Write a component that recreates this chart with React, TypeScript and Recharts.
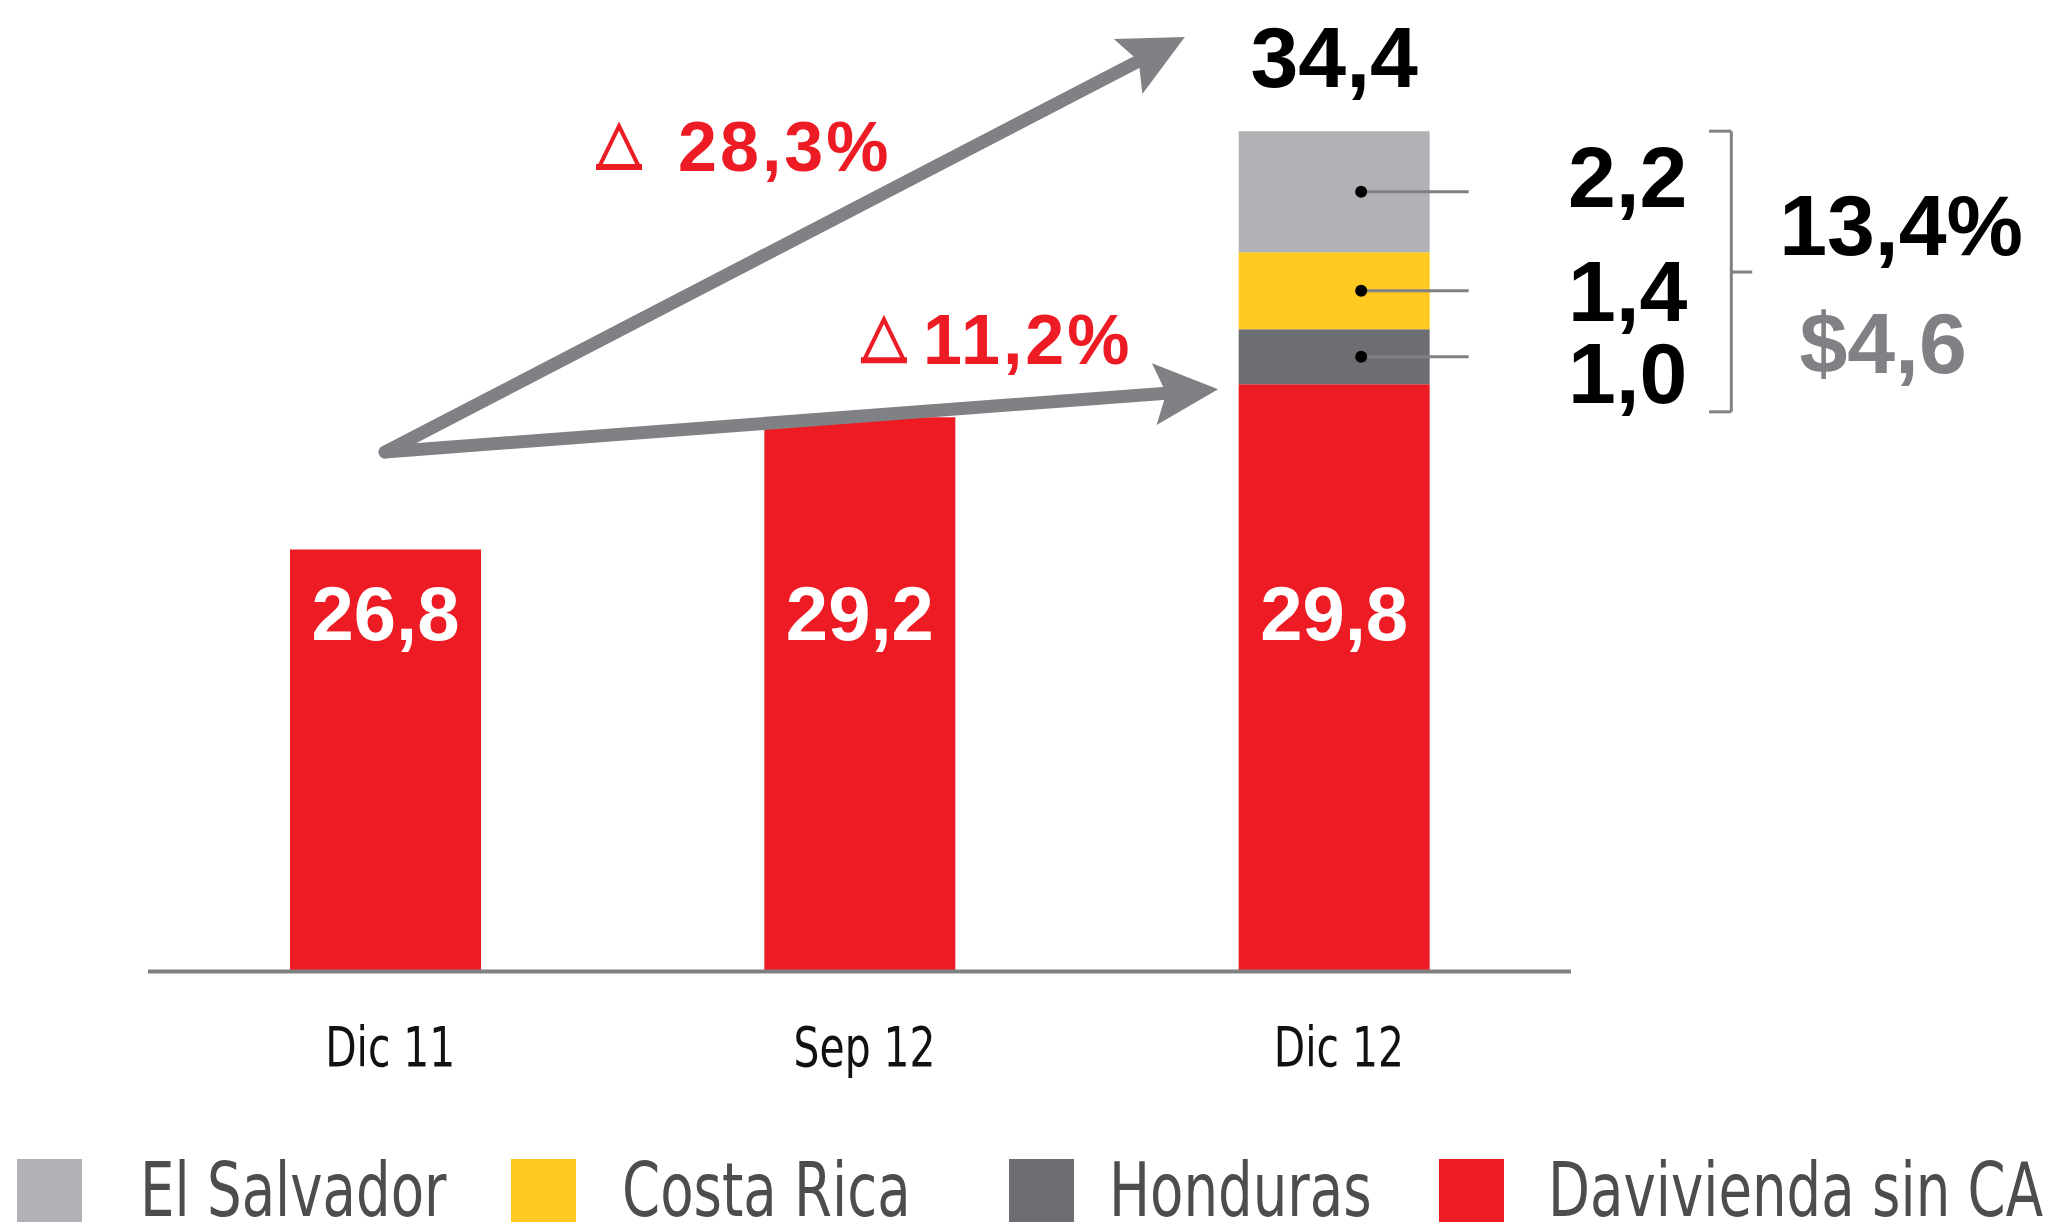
import React from 'react';
import { ComposedChart, Bar, XAxis, YAxis, ReferenceLine, ReferenceDot, LabelList } from 'recharts';

// ---- data ----
const categories = ['Dic 11', 'Sep 12', 'Dic 12'];
const daviviendaSinCA = [26.8, 29.2, 29.8];
const honduras = [0, 0, 1.0];
const costaRica = [0, 0, 1.4];
const elSalvador = [0, 0, 2.2];
const growthLabels = ['28,3%', '11,2%'];
const caShareLabel = '13,4%';
const legendLabels = ['El Salvador', 'Costa Rica', 'Honduras', 'Davivienda sin CA'];

const data = categories.map((cat, i) => ({
  cat,
  dav: daviviendaSinCA[i],
  hon: honduras[i],
  cr: costaRica[i],
  es: elSalvador[i],
}));

const RED = '#ED1C24';
const YELLOW = '#FFC921';
const DARK = '#6D6E71';
const LIGHT = '#B1B2B5';
const ARROW = '#808184';
const AXIS = '#808080';
const NARROW = "'Liberation Sans Narrow', 'DejaVu Sans Condensed', 'DejaVu Sans', sans-serif";
const BOLD = "'Liberation Sans', 'Arial', 'Roboto', sans-serif";

const fmt = (v: number) => v.toFixed(1).replace('.', ',');

const Tick = ({ x, y, payload }: any) => (
  <g transform={`translate(${x + 5},${y + 75})`}>
    <text transform="scale(0.81,1)" textAnchor="middle" dominantBaseline="central" fontFamily={NARROW} fontSize={56} fill="#111">
      {payload.value}
    </text>
  </g>
);

const InnerLabel = (p: any) => {
  const { x, y, width, height, value } = p;
  return (
    <text x={x + width / 2} y={y + height - 358} textAnchor="middle" dominantBaseline="central" fontFamily={BOLD} fontWeight={700} fontSize={76} fill="#fff">
      {fmt(value)}
    </text>
  );
};

const SegmentLabel = (p: any) => {
  const { x, y, width, height, value, shift = 0 } = p;
  if (!value) return null;
  const cy = y + height / 2;
  const dotX = x + width / 2 + 27;
  return (
    <g>
      <line x1={dotX} y1={cy} x2={x + width + 39} y2={cy} stroke={ARROW} strokeWidth={3} />
      <circle cx={dotX} cy={cy} r={6} fill="#000" />
      <text x={x + width + 198} y={cy + shift} textAnchor="middle" dominantBaseline="central" fontFamily={BOLD} fontWeight={700} fontSize={86} fill="#000">
        {fmt(value)}
      </text>
    </g>
  );
};

const TotalLabel = (p: any) => {
  const { x, y, width, value } = p;
  if (value === null || value === undefined || value === '') return null;
  return (
    <text x={x + width / 2} y={y - 74} textAnchor="middle" dominantBaseline="central" fontFamily={BOLD} fontWeight={700} fontSize={86} fill="#000">
      {fmt(Number(value))}
    </text>
  );
};

const totalOf = (d: any) => (d.es ? d.dav + d.hon + d.cr + d.es : null);

const Arrow = (p: any) => {
  const { x1, y1, x2, y2 } = p;
  const dx = x2 - x1;
  const dy = y2 - y1;
  const len = Math.hypot(dx, dy);
  const ux = dx / len;
  const uy = dy / len;
  const head = 64;
  const hw = 31;
  const bx = x2 - ux * head;
  const by = y2 - uy * head;
  const px = -uy;
  const py = ux;
  const nx = bx + ux * 12;
  const ny = by + uy * 12;
  return (
    <g>
      <line x1={x1} y1={y1} x2={nx} y2={ny} stroke={ARROW} strokeWidth={13} strokeLinecap="round" />
      <polygon points={`${x2},${y2} ${bx + px * hw},${by + py * hw} ${nx},${ny} ${bx - px * hw},${by - py * hw}`} fill={ARROW} />
    </g>
  );
};

const growthShape = (label: string, gap: number) => (p: any) => {
  const x0 = p.cx;
  const cy = p.cy;
  return (
    <g>
      <polygon points={`${x0 + 3},${cy + 20} ${x0 + 23},${cy - 21} ${x0 + 43},${cy + 20}`} fill="none" stroke={RED} strokeWidth={4} strokeLinejoin="miter" />
      <line x1={x0} y1={cy + 20} x2={x0 + 46} y2={cy + 20} stroke={RED} strokeWidth={6} />
      <text x={x0 + 46 + gap} y={cy} dominantBaseline="central" fill={RED} fontFamily={BOLD} fontSize={70} fontWeight={700} letterSpacing={3}>
        {label}
      </text>
    </g>
  );
};

const caTotal = honduras[2] + costaRica[2] + elSalvador[2];

const shareShape = (p: any) => (
  <text x={p.cx} y={p.cy} textAnchor="middle" dominantBaseline="central" fontFamily={BOLD} fontWeight={700} fontSize={86} fill="#000">
    {caShareLabel}
  </text>
);
const caTotalShape = (p: any) => (
  <text x={p.cx} y={p.cy} textAnchor="middle" dominantBaseline="central" fontFamily={BOLD} fontWeight={700} fontSize={86} fill={ARROW}>
    {'$' + fmt(caTotal)}
  </text>
);

const legendColors = [LIGHT, YELLOW, DARK, RED];
const swatchX = [17, 511, 1009, 1439];
const textX = [140, 622, 1109, 1548];

export default function App() {
  return (
    <div style={{ width: 2053, height: 1222, overflow: 'hidden', background: '#fff', position: 'relative' }}>
      <style>{`html,body{margin:0;padding:0;overflow:hidden;}`}</style>
      <ComposedChart width={2053} height={1100} data={data} margin={{ top: 20, right: 482, bottom: 0, left: 148 }} barCategoryGap={0}>
        <XAxis xAxisId="c" dataKey="cat" type="category" axisLine={{ stroke: AXIS, strokeWidth: 4 }} tickLine={false} tickSize={0} tickMargin={0} height={128.5} tick={<Tick />} interval={0} />
        <XAxis xAxisId="n" type="number" domain={[0, 2]} allowDataOverflow hide />
        <YAxis hide type="number" domain={[19.13, 36.42]} allowDataOverflow />
        <Bar xAxisId="c" dataKey="dav" stackId="a" fill={RED} barSize={191} isAnimationActive={false}>
          <LabelList dataKey="dav" content={<InnerLabel />} />
        </Bar>
        <Bar xAxisId="c" dataKey="hon" stackId="a" fill={DARK} barSize={191} isAnimationActive={false}>
          <LabelList dataKey="hon" content={<SegmentLabel shift={16} />} />
        </Bar>
        <Bar xAxisId="c" dataKey="cr" stackId="a" fill={YELLOW} barSize={191} isAnimationActive={false}>
          <LabelList dataKey="cr" content={<SegmentLabel shift={0} />} />
        </Bar>
        <Bar xAxisId="c" dataKey="es" stackId="a" fill={LIGHT} barSize={191} isAnimationActive={false}>
          <LabelList dataKey="es" content={<SegmentLabel shift={-15} />} />
          <LabelList dataKey={totalOf} content={<TotalLabel />} />
        </Bar>
        {/* growth arrows */}
        <ReferenceLine xAxisId="n" ifOverflow="visible" segment={[{ x: 0.3333, y: 28.57 }, { x: 1.4573, y: 36.11 }]} shape={Arrow} />
        <ReferenceLine xAxisId="n" ifOverflow="visible" segment={[{ x: 0.3333, y: 28.57 }, { x: 1.504, y: 29.71 }]} shape={Arrow} />
        <ReferenceDot xAxisId="n" ifOverflow="visible" x={0.6297} y={34.11} r={0} shape={growthShape(growthLabels[0], 36)} />
        <ReferenceDot xAxisId="n" ifOverflow="visible" x={1.002} y={30.6} r={0} shape={growthShape(growthLabels[1], 16)} />
        {/* bracket */}
        <ReferenceLine xAxisId="n" ifOverflow="visible" segment={[{ x: 2.2253, y: 34.4 }, { x: 2.2253, y: 29.3 }]} stroke={ARROW} strokeWidth={3} />
        <ReferenceLine xAxisId="n" ifOverflow="visible" segment={[{ x: 2.194, y: 34.4 }, { x: 2.2253, y: 34.4 }]} stroke={ARROW} strokeWidth={3} />
        <ReferenceLine xAxisId="n" ifOverflow="visible" segment={[{ x: 2.194, y: 29.3 }, { x: 2.2253, y: 29.3 }]} stroke={ARROW} strokeWidth={3} />
        <ReferenceLine xAxisId="n" ifOverflow="visible" segment={[{ x: 2.2253, y: 31.84 }, { x: 2.2547, y: 31.84 }]} stroke={ARROW} strokeWidth={3} />
        <ReferenceDot xAxisId="n" ifOverflow="visible" x={2.464} y={32.69} r={0} shape={shareShape} />
        <ReferenceDot xAxisId="n" ifOverflow="visible" x={2.4387} y={30.55} r={0} shape={caTotalShape} />
      </ComposedChart>
      <svg width={2053} height={122} style={{ display: 'block' }}>
        {legendLabels.map((label, i) => (
          <g key={label}>
            <rect x={swatchX[i]} y={59} width={65} height={70} fill={legendColors[i]} />
            <text transform={`translate(${textX[i]},116) scale(0.82,1)`} fontFamily={NARROW} fontSize={74} fill="#4d4d4f">
              {label}
            </text>
          </g>
        ))}
      </svg>
    </div>
  );
}
